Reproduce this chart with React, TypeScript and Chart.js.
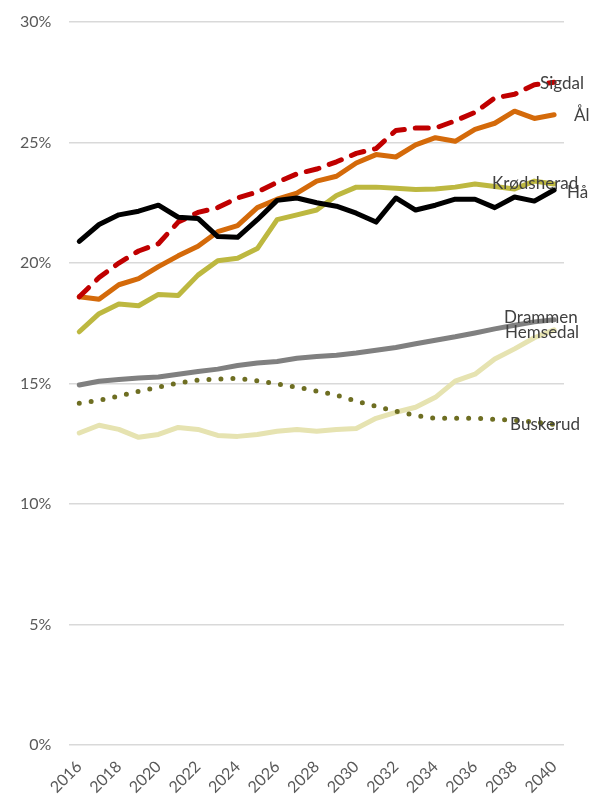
import React, { useEffect, useRef } from "react";
import { Chart, registerables } from "chart.js";

Chart.register(...registerables);

const years = [
  "2016", "2017", "2018", "2019", "2020", "2021", "2022", "2023", "2024", "2025",
  "2026", "2027", "2028", "2029", "2030", "2031", "2032", "2033", "2034", "2035",
  "2036", "2037", "2038", "2039", "2040",
];

const ha = [20.9, 21.6, 22.0, 22.15, 22.4, 21.9, 21.85, 21.1, 21.07, 21.8, 22.6, 22.7, 22.5, 22.36, 22.07, 21.7, 22.7, 22.2, 22.4, 22.65, 22.65, 22.3, 22.74, 22.57, 23.03];
const sigdal = [18.6, 19.4, 20.0, 20.5, 20.8, 21.7, 22.1, 22.3, 22.7, 22.95, 23.35, 23.7, 23.9, 24.2, 24.55, 24.75, 25.5, 25.6, 25.6, 25.9, 26.25, 26.85, 27.0, 27.4, 27.5];
const al = [18.6, 18.5, 19.1, 19.35, 19.85, 20.3, 20.7, 21.3, 21.55, 22.3, 22.65, 22.9, 23.4, 23.6, 24.15, 24.5, 24.4, 24.9, 25.2, 25.05, 25.55, 25.8, 26.3, 26.0, 26.15];
const krodsherad = [17.15, 17.9, 18.3, 18.23, 18.7, 18.65, 19.5, 20.1, 20.2, 20.6, 21.8, 22.0, 22.2, 22.8, 23.15, 23.15, 23.1, 23.05, 23.07, 23.15, 23.28, 23.18, 23.07, 23.4, 23.28];
const drammen = [14.94, 15.1, 15.17, 15.23, 15.27, 15.39, 15.5, 15.6, 15.75, 15.85, 15.92, 16.05, 16.12, 16.18, 16.27, 16.38, 16.5, 16.65, 16.8, 16.94, 17.1, 17.27, 17.42, 17.56, 17.65];
const buskerud = [14.18, 14.3, 14.48, 14.68, 14.85, 15.02, 15.14, 15.19, 15.22, 15.12, 14.98, 14.85, 14.69, 14.52, 14.27, 14.06, 13.85, 13.68, 13.56, 13.56, 13.56, 13.52, 13.48, 13.4, 13.31];
const hemsedal = [12.95, 13.27, 13.1, 12.77, 12.89, 13.18, 13.1, 12.85, 12.81, 12.89, 13.02, 13.1, 13.02, 13.1, 13.14, 13.56, 13.81, 14.02, 14.43, 15.1, 15.39, 16.02, 16.44, 16.9, 17.23];

const yTicks = [0, 5, 10, 15, 20, 25, 30];

const seriesNames = ["Hå", "Sigdal", "Ål", "Krødsherad", "Buskerud", "Drammen", "Hemsedal"];
const seriesValues = [ha, sigdal, al, krodsherad, buskerud, drammen, hemsedal];
const seriesColors = ["#000000", "#C00000", "#D46A0A", "#BDB840", "#6E6E22", "#808080", "#E6E3B1"];
const seriesDash: number[][] = [[], [13, 11], [], [], [0, 12], [], []];
const labelDx = [13, -14, 20, -62, -44, -50, -49];
const labelDy = [2, 1, 1, 0, 0, -2, 3];

const endLabels = {
  id: "endLabels",
  afterDatasetsDraw(chart: any) {
    const ctx = chart.ctx;
    ctx.save();
    ctx.font = "17px Lato";
    ctx.fillStyle = "#404040";
    ctx.textBaseline = "middle";
    ctx.textAlign = "left";
    chart.data.datasets.forEach((ds: any, i: number) => {
      const meta = chart.getDatasetMeta(i);
      const pt = meta.data[meta.data.length - 1];
      if (!pt) return;
      ctx.fillText(ds.label, pt.x + labelDx[i], pt.y + labelDy[i]);
    });
    ctx.restore();
  },
};

export default function App() {
  const ref = useRef<HTMLCanvasElement>(null);
  useEffect(() => {
    if (!ref.current) return;
    const chart = new Chart(ref.current, {
      type: "line",
      data: {
        labels: years,
        datasets: seriesNames.map((name, i) => ({
          label: name,
          data: seriesValues[i],
          borderColor: seriesColors[i],
          backgroundColor: seriesColors[i],
          borderWidth: 5,
          borderDash: seriesDash[i],
          borderCapStyle: "round",
          borderJoinStyle: "round",
          pointRadius: 0,
          tension: 0,
          fill: false,
        })),
      },
      options: {
        responsive: true,
        maintainAspectRatio: false,
        animation: false,
        layout: { padding: { top: 22, right: 29, left: 2, bottom: 0 } },
        plugins: {
          legend: { display: false },
          tooltip: { enabled: false },
        },
        scales: {
          x: {
            type: "category",
            offset: true,
            grid: { display: false },
            border: { display: false },
            ticks: {
              autoSkip: false,
              maxRotation: 45,
              minRotation: 45,
              padding: 4,
              color: "#595959",
              font: { family: "Lato", size: 16 },
              callback: (_v: any, i: number) => (i % 2 === 0 ? years[i] : ""),
            },
          },
          y: {
            min: 0,
            max: 30,
            afterBuildTicks: (axis: any) => {
              axis.ticks = yTicks.map((v) => ({ value: v }));
            },
            afterFit: (axis: any) => {
              axis.paddingTop = 0;
              axis.paddingBottom = 0;
            },
            grid: { color: "#D9D9D9", lineWidth: 1.5, drawTicks: false },
            border: { display: false },
            ticks: {
              padding: 18,
              color: "#595959",
              font: { family: "Lato", size: 16 },
              callback: (v: any) => v + "%",
            },
          },
        },
      },
      plugins: [endLabels],
    });
    return () => chart.destroy();
  }, []);
  return (
    <div style={{ position: "absolute", left: 0, top: 0, width: 593, height: 801 }}>
      <canvas ref={ref} />
    </div>
  );
}
